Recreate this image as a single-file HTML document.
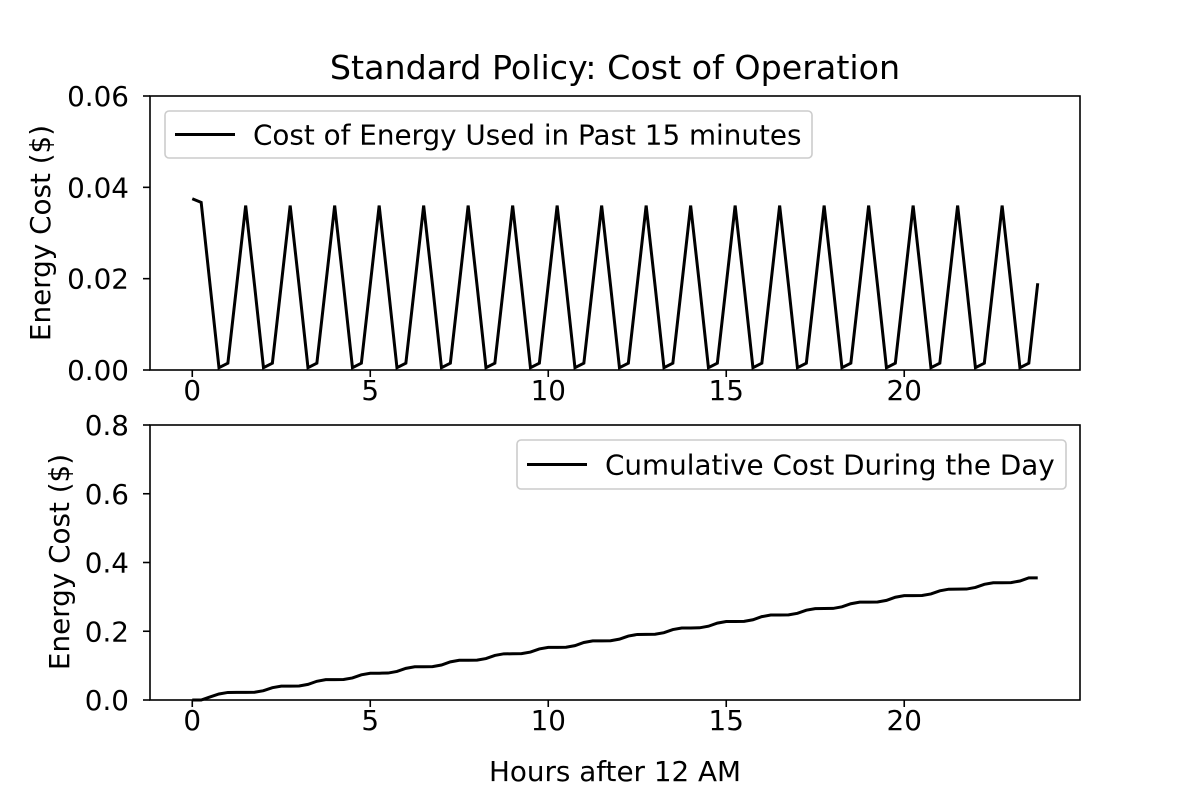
<!DOCTYPE html>
<html><head><meta charset="utf-8"><style>
html,body{margin:0;padding:0;background:#fff;}
svg{display:block;font-family:"DejaVu Sans","Liberation Sans",sans-serif;}
</style></head><body>
<svg id="chart" width="1200" height="800" viewBox="0 0 1200 800">
<rect width="1200" height="800" fill="#fff"/>
<text x="615" y="79" font-size="33.3" text-anchor="middle">Standard Policy: Cost of Operation</text>
<text transform="translate(50,233) rotate(-90)" font-size="27.8" text-anchor="middle">Energy Cost ($)</text>
<text transform="translate(69,562) rotate(-90)" font-size="27.8" text-anchor="middle">Energy Cost ($)</text>
<text x="615" y="781" font-size="27.8" text-anchor="middle">Hours after 12 AM</text>
<g id="top"></g>
<g id="bot"></g>
</svg>
<script>
const xTicks = [0,5,10,15,20];
const topYTicks = [0,0.02,0.04,0.06];
const topYLabels = ["0.00","0.02","0.04","0.06"];
const botYTicks = [0,0.2,0.4,0.6,0.8];
const botYLabels = ["0.0","0.2","0.4","0.6","0.8"];
const costPer15 = [0.0375,0.0367,0.0186,
0.0005,0.0015,0.0187,0.036,0.0185, 0.0005,0.0015,0.0187,0.036,0.0185,
0.0005,0.0015,0.0187,0.036,0.0185, 0.0005,0.0015,0.0187,0.036,0.0185,
0.0005,0.0015,0.0187,0.036,0.0185, 0.0005,0.0015,0.0187,0.036,0.0185,
0.0005,0.0015,0.0187,0.036,0.0185, 0.0005,0.0015,0.0187,0.036,0.0185,
0.0005,0.0015,0.0187,0.036,0.0185, 0.0005,0.0015,0.0187,0.036,0.0185,
0.0005,0.0015,0.0187,0.036,0.0185, 0.0005,0.0015,0.0187,0.036,0.0185,
0.0005,0.0015,0.0187,0.036,0.0185, 0.0005,0.0015,0.0187,0.036,0.0185,
0.0005,0.0015,0.0187,0.036,0.0185, 0.0005,0.0015,0.0187,0.036,0.0185,
0.0005,0.0015,0.0187,0.036,0.0185, 0.0005,0.0015,0.0187,0.036,0.0185,
0.0005,0.0015,0.019];
const cumulative = [0,0,0.0090,0.0175,0.0220,
0.0221,0.0222,0.0226,0.0271,0.0358, 0.0403,0.0404,0.0408,0.0454,0.0545,
0.0591,0.0592,0.0596,0.0642,0.0733, 0.0779,0.0780,0.0784,0.0830,0.0921,
0.0967,0.0968,0.0972,0.1018,0.1109, 0.1155,0.1156,0.1160,0.1206,0.1297,
0.1343,0.1344,0.1348,0.1394,0.1485, 0.1531,0.1532,0.1536,0.1582,0.1673,
0.1719,0.1720,0.1724,0.1770,0.1861, 0.1907,0.1908,0.1912,0.1958,0.2049,
0.2095,0.2096,0.2100,0.2146,0.2237, 0.2283,0.2284,0.2288,0.2334,0.2425,
0.2471,0.2472,0.2476,0.2522,0.2613, 0.2659,0.2660,0.2664,0.2710,0.2801,
0.2847,0.2848,0.2852,0.2898,0.2989, 0.3035,0.3036,0.3040,0.3086,0.3177,
0.3223,0.3224,0.3228,0.3274,0.3365, 0.3411,0.3412,0.3416,0.3462,0.3553,
0.3554];
const stepHours = 0.25;

const NS="http://www.w3.org/2000/svg";
function mk(tag,attrs,parent){const e=document.createElementNS(NS,tag);for(const k in attrs)e.setAttribute(k,attrs[k]);parent.appendChild(e);return e;}
const L=150,R=1080;
const xMin=-1.1875,xMax=24.9375;
const xs=v=>L+(v-xMin)/(xMax-xMin)*(R-L);

function panel(g,top,bot,yMax,yTicks,yLabels,series,legendText,lg,prefix){
  const ys=v=>bot-v/yMax*(bot-top);
  xTicks.forEach(t=>{
    const l=mk('line',{x1:xs(t),x2:xs(t),y1:bot,y2:bot+7,stroke:'#000','stroke-width':1.6},g);
    
    
    const tx=mk('text',{x:xs(t),y:bot+30,'font-size':27.8,'text-anchor':'middle'},g);
    tx.textContent=t;
    
    
  });
  yTicks.forEach((t,i)=>{
    const l=mk('line',{x1:L-7,x2:L,y1:ys(t),y2:ys(t),stroke:'#000','stroke-width':1.6},g);
    
    
    const tx=mk('text',{x:L-21,y:ys(t)+10,'font-size':27.8,'text-anchor':'end'},g);
    tx.textContent=yLabels[i];
    
    
  });
  const pts=series.map((v,i)=>xs(i*stepHours).toFixed(2)+','+ys(v).toFixed(2)).join(' ');
  const pl=mk('polyline',{points:pts,fill:'none',stroke:'#000','stroke-width':3,'stroke-linejoin':'miter'},g);
  
  
  const fr=mk('rect',{x:L,y:top,width:R-L,height:bot-top,fill:'none',stroke:'#000','stroke-width':1.6},g);
  
  
  const lgG=mk('g',{},g);
  
  
  mk('rect',{x:lg.x,y:lg.y,width:lg.w,height:lg.h,rx:4,fill:'#fff','fill-opacity':0.8,stroke:'#ccc','stroke-width':1.6},lgG);
  const ll=mk('line',{x1:lg.x+10,x2:lg.x+70,y1:lg.y+lg.h/2,y2:lg.y+lg.h/2,stroke:'#000','stroke-width':3},lgG);
  
  
  const lt=mk('text',{x:lg.x+88,y:lg.y+lg.h/2+10,'font-size':27.8},lgG);
  lt.textContent=legendText;
  
  
}
panel(document.getElementById('top'),96,370,0.06,topYTicks,topYLabels,costPer15,'Cost of Energy Used in Past 15 minutes',{x:165,y:111,w:647,h:47},'top');
panel(document.getElementById('bot'),425,700,0.8,botYTicks,botYLabels,cumulative,'Cumulative Cost During the Day',{x:517,y:440,w:549,h:49},'bottom');
</script>
</body></html>
